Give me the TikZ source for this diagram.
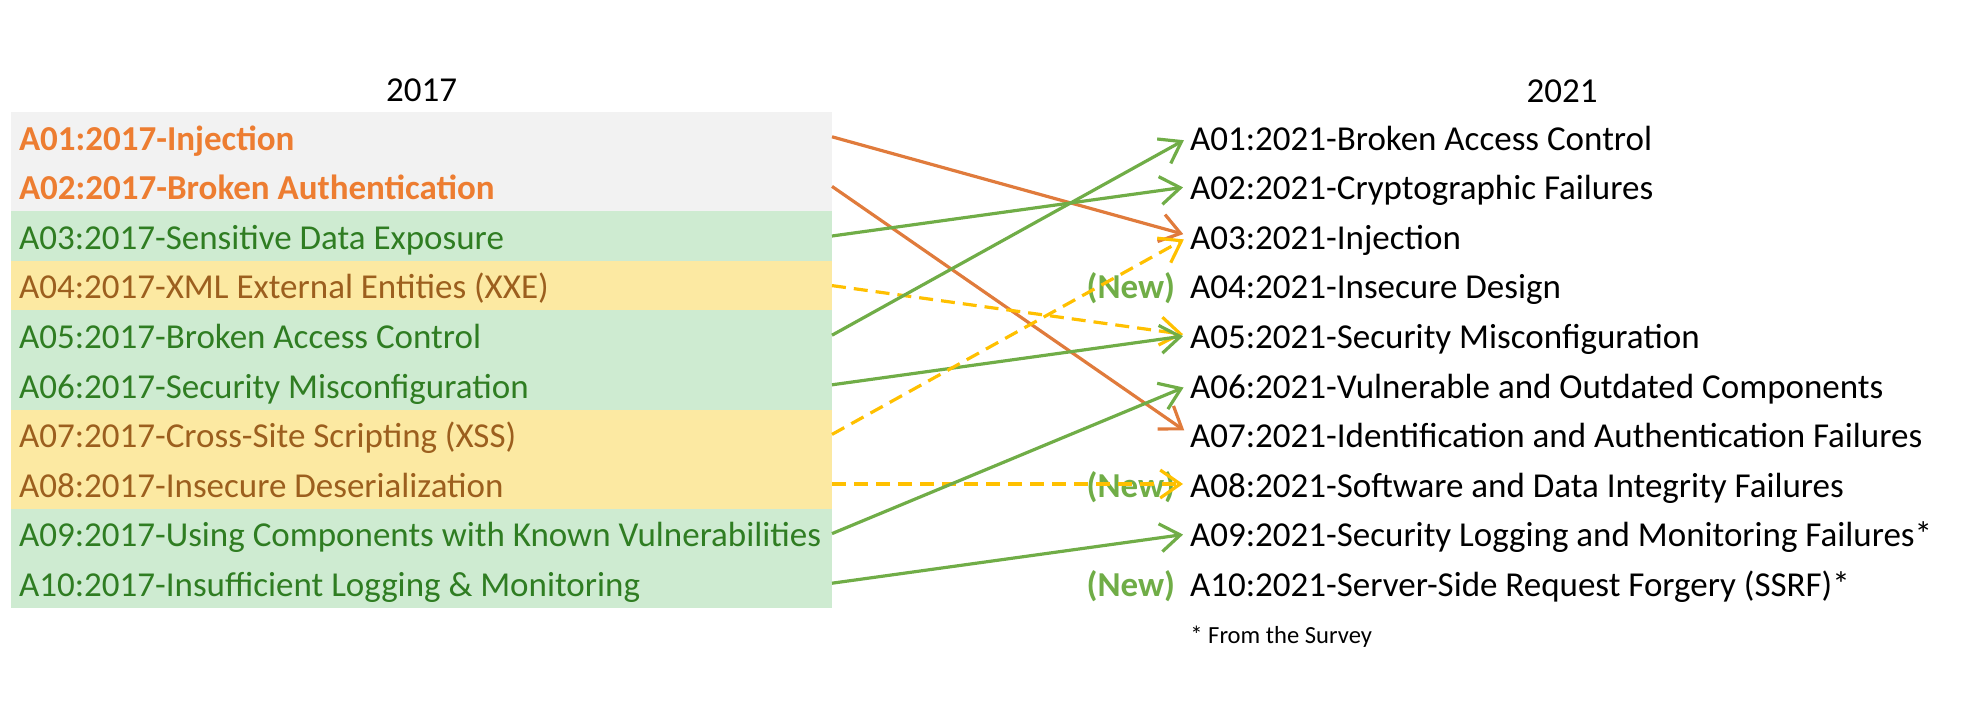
\documentclass[tikz,border=0pt]{standalone}
\usepackage{fontspec}
\setmainfont{Carlito}
\usetikzlibrary{arrows.meta, positioning}
\definecolor{owgray}{HTML}{F2F2F2}
\definecolor{owgreenbg}{HTML}{CEEBD1}
\definecolor{owyellowbg}{HTML}{FCE9A2}
\definecolor{owgreentxt}{HTML}{2F7D22}
\definecolor{owbrowntxt}{HTML}{9C5F1E}
\definecolor{oworange}{HTML}{ED7D31}
\definecolor{owarrorange}{HTML}{E07B3C}
\definecolor{owarrgreen}{HTML}{70AD47}
\definecolor{owarryellow}{HTML}{FFC000}

\begin{document}
\begin{tikzpicture}[x=0.5pt, y=-0.5pt,
    oldrow/.style={rectangle, inner xsep=4pt, inner ysep=0pt, outer sep=0pt, text width=402.5pt,
                   align=flush left, text height=19pt, text depth=5.8pt, font=\fontsize{17.5}{20}\selectfont},
    oldgray/.style={oldrow, fill=owgray, text=oworange, font=\fontsize{17.5}{20}\selectfont\bfseries},
    oldgreen/.style={oldrow, fill=owgreenbg, text=owgreentxt},
    oldyellow/.style={oldrow, fill=owyellowbg, text=owbrowntxt},
    newrow/.style={rectangle, inner sep=0pt, outer sep=0pt, text width=390pt, align=flush left,
                   text height=19pt, text depth=5.8pt, font=\fontsize{17.5}{20}\selectfont},
    newtag/.style={inner sep=0pt, outer sep=0pt, text height=19pt, text depth=5.8pt, text=owarrgreen,
                   font=\fontsize{17.5}{20}\selectfont\bfseries},
    yearhead/.style={inner sep=0pt, font=\fontsize{17.5}{20}\selectfont},
    fnote/.style={inner sep=0pt, font=\fontsize{12.3}{14}\selectfont},
    arr/.style={line width=1.6pt, -{Straight Barb[length=10pt, width=14pt]}, shorten >=3.5pt},
    arrgreen/.style={arr, draw=owarrgreen},
    arrorange/.style={arr, draw=owarrorange},
    arryellow/.style={arr, draw=owarryellow, dash pattern=on 7pt off 4pt}
  ]
    \useasboundingbox (0,0) rectangle (1984,712);

    \node[oldgray, anchor=north west] (l1) at (11,112) {A01:2017-Injection};
    \node[oldgray, below=0pt of l1] (l2) {A02:2017-Broken Authentication};
    \node[oldgreen, below=0pt of l2] (l3) {A03:2017-Sensitive Data Exposure};
    \node[oldyellow, below=0pt of l3] (l4) {A04:2017-XML External Entities (XXE)};
    \node[oldgreen, below=0pt of l4] (l5) {A05:2017-Broken Access Control};
    \node[oldgreen, below=0pt of l5] (l6) {A06:2017-Security Misconfiguration};
    \node[oldyellow, below=0pt of l6] (l7) {A07:2017-Cross-Site Scripting (XSS)};
    \node[oldyellow, below=0pt of l7] (l8) {A08:2017-Insecure Deserialization};
    \node[oldgreen, below=0pt of l8] (l9) {A09:2017-Using Components with Known Vulnerabilities};
    \node[oldgreen, below=0pt of l9] (l10) {A10:2017-Insufficient Logging \& Monitoring};
    \node[yearhead, above=5pt of l1] (y17) {2017};

    \node[newrow, anchor=north west] (r1) at (1190,112) {A01:2021-Broken Access Control};
    \node[newrow, below=0pt of r1] (r2) {A02:2021-Cryptographic Failures};
    \node[newrow, below=0pt of r2] (r3) {A03:2021-Injection};
    \node[newrow, below=0pt of r3] (r4) {A04:2021-Insecure Design};
    \node[newrow, below=0pt of r4] (r5) {A05:2021-Security Misconfiguration};
    \node[newrow, below=0pt of r5] (r6) {A06:2021-Vulnerable and Outdated Components};
    \node[newrow, below=0pt of r6] (r7) {A07:2021-Identification and Authentication Failures};
    \node[newrow, below=0pt of r7] (r8) {A08:2021-Software and Data Integrity Failures};
    \node[newrow, below=0pt of r8] (r9) {A09:2021-Security Logging and Monitoring Failures*};
    \node[newrow, below=0pt of r9] (r10) {A10:2021-Server-Side Request Forgery (SSRF)*};
    \node[yearhead, anchor=base] (y21) at (1562,102) {2021};
    \node[newtag, left=7.5pt of r4] (n4) {(New)};
    \node[newtag, left=7.5pt of r8] (n8) {(New)};
    \node[newtag, left=7.5pt of r10] (n10) {(New)};
    \node[fnote, anchor=base west] (fn) at (1190,643) {* From the Survey};

    \draw[arrorange] (l1.east) -- (r3.west);
    \draw[arrorange] (l2.east) -- (r7.west);
    \draw[arrgreen] (l3.east) -- (r2.west);
    \draw[arryellow] (l4.east) -- (r5.west);
    \draw[arrgreen] (l5.east) -- (r1.west);
    \draw[arrgreen] (l6.east) -- (r5.west);
    \draw[arryellow] (l7.east) -- (r3.west);
    \draw[arryellow] (l8.east) -- (r8.west);
    \draw[arrgreen] (l9.east) -- (r6.west);
    \draw[arrgreen] (l10.east) -- (r9.west);
  \end{tikzpicture}
\end{document}
